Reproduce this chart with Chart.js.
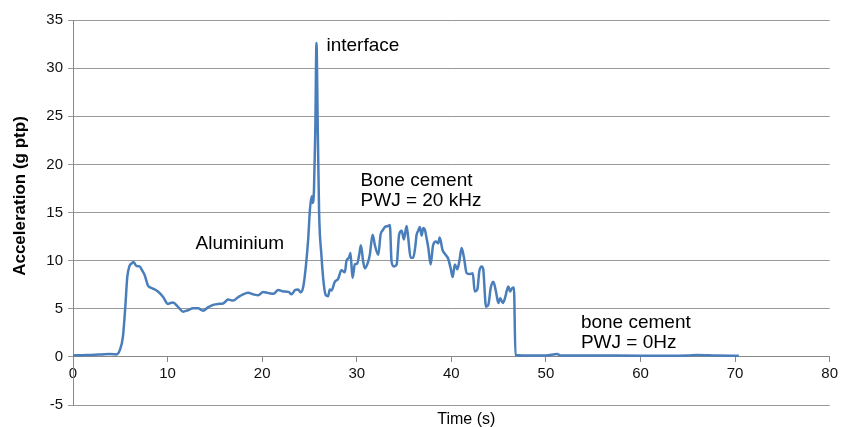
<!DOCTYPE html>
<html>
<head>
<meta charset="utf-8">
<script src="https://cdn.jsdelivr.net/npm/chart.js@4.4.1/dist/chart.umd.min.js"></script>
<style>
  html, body { margin: 0; padding: 0; background: #fff; }
  #wrap { width: 841px; height: 427px; position: relative; }
</style>
</head>
<body>
<div id="wrap"><canvas id="c" width="841" height="427"></canvas></div>
<script>
// ---- data ----
const timeS = [
  0, 1.0, 2.0, 3.0, 3.9, 4.3, 4.6, 4.95, 5.28, 5.53, 5.74, 5.98, 6.2, 6.41, 6.69, 7.04, 7.3, 7.57, 7.93, 8.2,
  8.45, 8.98, 9.51, 10.04, 10.3, 10.57, 11.1, 11.63, 12.16, 12.69, 13.22, 13.75, 14.28, 14.81, 15.34, 15.87,
  16.4, 16.93, 17.46, 17.99, 18.52, 19.05, 19.58, 20.1, 20.6, 21.2, 21.7, 22.2, 22.8, 23.1, 23.5, 23.8,
  24.07, 24.35, 24.63, 24.87, 25.05, 25.23, 25.34, 25.48, 25.62, 25.74, 25.88, 26.02, 26.27, 26.52, 26.73,
  26.97, 27.15, 27.33, 27.68, 28.03, 28.38, 28.74, 28.92, 29.18, 29.34, 29.55, 29.8, 30.04, 30.26, 30.44,
  30.68, 30.86, 31.21, 31.38, 31.68, 31.92, 32.28, 32.52, 32.78, 32.98, 33.32, 33.5, 33.68, 33.93, 34.22,
  34.48, 34.75, 34.98, 35.27, 35.44, 35.69, 35.97, 36.17, 36.33, 36.5, 36.67, 36.86, 37.03, 37.21, 37.37,
  37.57, 37.81, 38.07, 38.37, 38.62, 38.77, 39.07, 39.32, 39.67, 39.93, 40.14, 40.37, 40.63, 40.84, 41.09,
  41.34, 41.62, 41.97, 42.27, 42.47, 42.75, 42.96, 43.21, 43.37, 43.67, 43.91, 44.17, 44.44, 44.72, 44.97,
  45.17, 45.44, 45.67, 45.87, 46.03, 46.21, 46.39, 46.62, 46.78, 47.5, 50.0, 51.2, 51.5, 55.0, 60.0, 65.0,
  66.0, 68.0, 70.4
];
const accelG = [
  0.15, 0.18, 0.2, 0.25, 0.3, 0.28, 0.25, 0.7, 2.1, 5.2, 8.3, 9.45, 9.7, 9.85, 9.45, 9.4, 9.0, 8.5, 7.4, 7.2,
  7.1, 6.8, 6.25, 5.5, 5.6, 5.65, 5.2, 4.7, 4.85, 5.05, 5.05, 4.8, 5.15, 5.4, 5.5, 5.55,
  5.95, 5.85, 6.2, 6.5, 6.65, 6.5, 6.4, 6.75, 6.65, 6.55, 6.95, 6.8, 6.75, 6.5, 6.95, 7.0,
  6.7, 7.3, 9.5, 12.3, 15.3, 16.7, 16.0, 17.4, 23.6, 32.6, 23.6, 15.0, 10.5, 7.5, 6.4,
  6.3, 7.0, 6.9, 7.8, 8.1, 9.0, 8.8, 10.0, 10.3, 10.8, 8.2, 9.6, 9.7, 10.6, 11.6,
  9.9, 9.2, 9.9, 10.6, 12.7, 11.6, 10.6, 12.7, 13.2, 13.5, 13.6, 13.7, 9.9, 9.4, 9.6,
  12.7, 13.1, 12.2, 13.6, 12.4, 10.3, 10.3, 11.3, 12.7, 13.1, 13.5, 12.6, 13.4, 13.2, 12.4,
  11.3, 9.6, 11.6, 12.0, 11.8, 12.4, 11.1, 10.7, 10.2, 9.2, 8.3, 9.6, 9.1, 9.9, 11.3,
  10.3, 8.7, 8.6, 8.7, 6.8, 7.0, 8.9, 9.4, 9.1, 5.2, 5.4, 7.2, 7.8, 6.8, 5.6,
  6.1, 5.6, 6.1, 6.9, 7.3, 6.8, 7.1, 7.2, 0.2, 0.15, 0.15, 0.3, 0.15, 0.15, 0.12, 0.15,
  0.2, 0.15, 0.12
];
const xTicks = [0, 10, 20, 30, 40, 50, 60, 70, 80];
const yTicks = [-5, 0, 5, 10, 15, 20, 25, 30, 35];
const xTitle = 'Time (s)';
const yTitle = 'Acceleration (g ptp)';

// annotation texts and their anchor (in data units)
const noteText = [['interface'], ['Bone cement', 'PWJ = 20 kHz'], ['Aluminium'], ['bone cement', 'PWJ = 0Hz']];
const noteX = [26.8, 30.4, 12.95, 53.7];
const noteY = [32.3, 18.3, 11.8, 3.5];

const FONT = '"Liberation Sans", Arial, sans-serif';
const points = timeS.map((t, i) => ({ x: t, y: accelG[i] }));

const textPlugin = {
  id: 'texts',
  afterDraw(chart) {
    const { ctx } = chart;
    const xs = chart.scales.x, ys = chart.scales.y;
    ctx.save();
    ctx.fillStyle = '#000';
    ctx.textBaseline = 'middle';
    ctx.textAlign = 'left';
    ctx.font = '19px ' + FONT;
    noteText.forEach((lines, i) => {
      const px = xs.getPixelForValue(noteX[i]);
      const py = ys.getPixelForValue(noteY[i]);
      lines.forEach((t, j) => ctx.fillText(t, px, py + j * 20));
    });
    // axis titles
    ctx.textAlign = 'center';
    ctx.font = '16px ' + FONT;
    ctx.fillText(xTitle, (xs.left + xs.right) / 2 + 15, 420);
    ctx.font = 'bold 17px ' + FONT;
    ctx.translate(20, 196);
    ctx.rotate(-Math.PI / 2);
    ctx.fillText(yTitle, 0, 0);
    ctx.restore();
  }
};

new Chart(document.getElementById('c'), {
  type: 'line',
  data: {
    datasets: [{
      data: points,
      borderColor: '#4A7EBB',
      borderWidth: 2.5,
      pointRadius: 0,
      cubicInterpolationMode: 'monotone',
      fill: false
    }]
  },
  options: {
    responsive: false,
    animation: false,
    layout: { padding: { left: 0, right: 10, top: 20, bottom: 22 } },
    plugins: { legend: { display: false }, tooltip: { enabled: false }, title: { display: false } },
    scales: {
      x: {
        type: 'linear',
        position: { y: 0 },
        min: 0, max: 80,
        afterBuildTicks: (s) => { s.ticks = xTicks.map(v => ({ value: v })); },
        ticks: { color: '#111', font: { size: 15, family: FONT }, padding: 3, maxRotation: 0, autoSkip: false },
        grid: { display: true, drawOnChartArea: false, drawTicks: true, tickLength: 5, color: '#888' },
        border: { display: true, color: '#888', width: 1 }
      },
      y: {
        type: 'linear',
        position: 'left',
        min: -5, max: 35,
        afterBuildTicks: (s) => { s.ticks = yTicks.map(v => ({ value: v })); },
        afterFit: (s) => { s.width = 73; },
        ticks: { color: '#111', font: { size: 15, family: FONT }, padding: 5 },
        grid: { color: '#999', tickLength: 5, drawTicks: true },
        border: { display: true, color: '#888', width: 1 }
      }
    }
  },
  plugins: [textPlugin]
});
</script>
</body>
</html>
